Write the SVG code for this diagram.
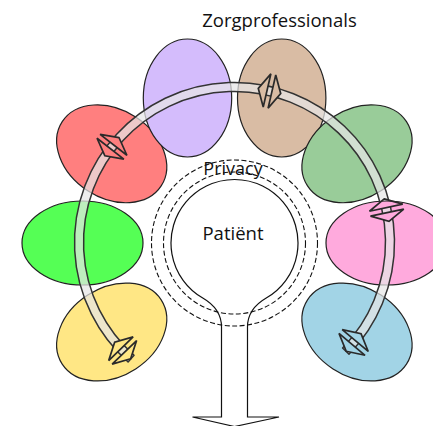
<svg xmlns="http://www.w3.org/2000/svg" xmlns:xlink="http://www.w3.org/1999/xlink" width="433" height="426" viewBox="0 0 433 426">
  <style>
    .care { stroke: #222; stroke-width: 1.2; }
    .label { font-family: "Open Sans", "Noto Sans", "Liberation Sans", sans-serif; fill: #111; text-anchor: middle; }
    .ring { fill: none; stroke: #111; stroke-width: 1.1; stroke-dasharray: 5 2.5; }
    .band { fill: #e6e6e6; fill-opacity: 0.72; stroke: #333; stroke-width: 1.5; stroke-linejoin: round; }
    .joint { fill: none; stroke: #2a2a2a; stroke-width: 1.7; stroke-linejoin: miter; }
  </style>
  <defs>
    <!-- split diamond used where band pieces meet -->
    <path id="mk" d="M11.5 0 L2.5 -17 L2.5 17 Z M-11.5 0 L-2.5 -17 L-2.5 17 Z"/>
    <mask id="cut" maskUnits="userSpaceOnUse" x="0" y="0" width="433" height="426">
      <rect x="0" y="0" width="433" height="426" fill="#fff"/>
      <g fill="#000">
        <use xlink:href="#mk" href="#mk" transform="translate(122.65 350.53) rotate(226)"/>
        <use xlink:href="#mk" href="#mk" transform="translate(111.97 146.76) rotate(308)"/>
        <use xlink:href="#mk" href="#mk" transform="translate(269.49 90.98) rotate(13)"/>
        <use xlink:href="#mk" href="#mk" transform="translate(386.60 210.17) rotate(78)"/>
        <use xlink:href="#mk" href="#mk" transform="translate(353.62 342.45) rotate(130)"/>
      </g>
    </mask>
  </defs>

  <rect x="0" y="0" width="433" height="426" fill="#fff"/>

  <!-- care providers around the patient -->
  <g id="prof-green"><ellipse class="care" cx="82.5" cy="243" rx="60.5" ry="42" fill="#55ff55"/></g>
  <g id="prof-red"><ellipse class="care" cx="111.7" cy="153.8" rx="59" ry="44" fill="#ff7f7f" transform="rotate(33 111.7 153.8)"/></g>
  <g id="prof-yellow"><ellipse class="care" cx="111.7" cy="332" rx="59" ry="44" fill="#ffe785" transform="rotate(-33 111.7 332)"/></g>
  <g id="prof-purple"><ellipse class="care" cx="187.5" cy="98" rx="44.2" ry="59" fill="#d4bcfc"/></g>
  <g id="prof-tan"><ellipse class="care" cx="281.7" cy="98" rx="44.2" ry="59" fill="#d9bca4"/></g>
  <g id="prof-sage"><ellipse class="care" cx="357" cy="153.8" rx="59" ry="44" fill="#99cc99" transform="rotate(-33 357 153.8)"/></g>
  <g id="prof-pink"><ellipse class="care" cx="386.5" cy="243" rx="60.5" ry="42" fill="#ffaadd"/></g>
  <g id="prof-blue"><ellipse class="care" cx="357" cy="332" rx="59" ry="44" fill="#a2d4e6" transform="rotate(33 357 332)"/></g>

  <g id="title"><text class="label" x="279.5" y="27" font-size="18.5">Zorgprofessionals</text></g>

  <!-- patient: keyhole outline with privacy rings -->
  <g id="patient">
    <path d="M221.5 417 L221.5 327 C221.5 312 211.4 303 202.75 298 A63.5 63.5 0 1 1 266.25 298 C257.6 303 247.5 312 247.5 327 L247.5 417 L279 417 L234.5 426.5 L192.5 417 Z" fill="none" stroke="#111" stroke-width="1.2" stroke-linejoin="miter"/>
    <circle class="ring" cx="234.5" cy="243" r="71"/>
    <circle class="ring" cx="234.5" cy="243" r="83"/>
    <text class="label" x="233" y="175" font-size="18">Privacy</text>
    <text class="label" x="233" y="240" font-size="18.5">Patiënt</text>
  </g>

  <!-- shared care path linking the providers -->
  <g id="connectors">
    <path class="band" mask="url(#cut)" d="M128.07 361.96 A160 160 0 1 1 349.01 354.24 L342.57 347.96 A151 151 0 1 0 134.05 355.24 Z"/>
    <g class="joint">
      <use xlink:href="#mk" href="#mk" transform="translate(122.65 350.53) rotate(226)"/>
      <use xlink:href="#mk" href="#mk" transform="translate(111.97 146.76) rotate(308)"/>
      <use xlink:href="#mk" href="#mk" transform="translate(269.49 90.98) rotate(13)"/>
      <use xlink:href="#mk" href="#mk" transform="translate(386.60 210.17) rotate(78)"/>
      <use xlink:href="#mk" href="#mk" transform="translate(353.62 342.45) rotate(130)"/>
    </g>
  </g>
</svg>
